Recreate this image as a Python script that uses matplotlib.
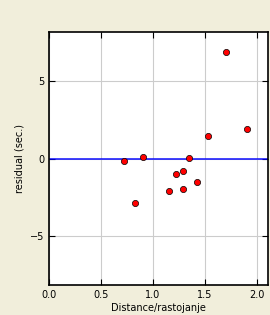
import matplotlib
matplotlib.use('Agg')
import matplotlib.pyplot as plt

distance = [0.72, 0.906, 0.829, 1.157, 1.225, 1.292, 1.292, 1.35, 1.427, 1.53, 1.697, 1.906]
residual = [-0.15, 0.09, -2.9, -2.07, -1.0, -0.83, -1.94, 0.03, -1.54, 1.48, 6.89, 1.92]

fig = plt.figure(figsize=(2.7, 3.15), dpi=100, facecolor='#f1eedb')
ax = fig.add_axes([0.181, 0.095, 0.81, 0.803])

ax.axhline(0, color='blue', linewidth=1.3, alpha=0.8, zorder=1)
ax.scatter(distance, residual, s=20, c='red', edgecolors='black', linewidths=0.5, zorder=3)

ax.set_xlim(0, 2.1)
ax.set_ylim(-8.2, 8.2)
ax.set_xticks([0.0, 0.5, 1.0, 1.5, 2.0])
ax.set_yticks([-5, 0, 5])
ax.grid(True, color='#cccccc', linewidth=0.8)
ax.set_axisbelow(True)
ax.tick_params(direction='in', labelsize=7, length=4, top=True, right=True)
for s in ax.spines.values():
    s.set_linewidth(1.2)
ax.set_xlabel('Distance/rastojanje', fontsize=7, labelpad=2)
ax.set_ylabel('residual (sec.)', fontsize=7, labelpad=4)

fig.savefig('out.png', dpi=100, facecolor=fig.get_facecolor())
